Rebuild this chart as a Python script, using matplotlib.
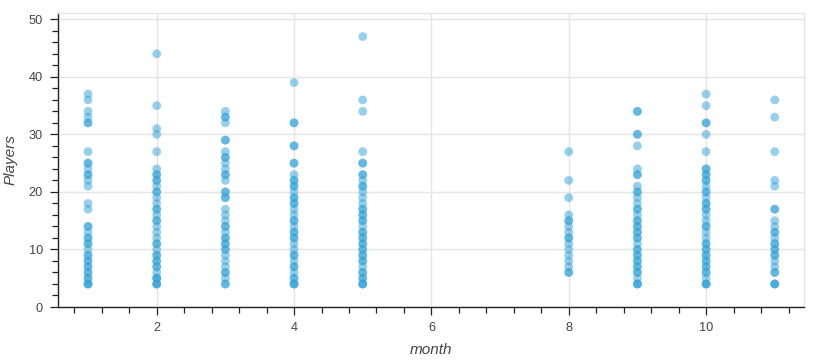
import matplotlib
matplotlib.use("Agg")
import matplotlib.pyplot as plt
from matplotlib.ticker import MultipleLocator

months = [1, 2, 3, 4, 5, 8, 9, 10, 11]

players_m1 = [37, 36, 34, 33, 32, 32, 27, 25, 25, 24, 23, 23, 22, 21, 18, 17, 14, 14, 13,
              12, 12, 11, 11, 10, 9, 9, 8, 8, 7, 7, 6, 6, 5, 5, 4, 4, 4]
players_m2 = [44, 35, 31, 30, 27, 24, 23, 23, 22, 22, 21, 20, 20, 19, 18, 17, 17, 16, 15, 15,
              14, 13, 12, 11, 11, 10, 9, 9, 8, 8, 7, 7, 6, 5, 5, 5, 4, 4, 4]
players_m3 = [34, 33, 33, 32, 29, 29, 27, 26, 26, 25, 24, 23, 23, 22, 20, 20, 19, 19, 17, 16,
              15, 14, 14, 13, 12, 12, 11, 11, 10, 10, 9, 8, 7, 6, 6, 5, 4, 4]
players_m4 = [39, 32, 32, 28, 28, 25, 25, 23, 22, 22, 21, 21, 20, 19, 19, 18, 18, 17, 16,
              15, 15, 14, 13, 13, 12, 12, 11, 10, 9, 9, 8, 7, 7, 6, 5, 5, 4, 4, 4]
players_m5 = [47, 36, 34, 27, 25, 25, 23, 23, 22, 21, 21, 20, 19, 18, 17, 17, 16, 16, 15, 15,
              14, 13, 13, 12, 12, 11, 11, 10, 10, 9, 9, 8, 8, 7, 6, 6, 5, 5, 4, 4, 4]
players_m8 = [27, 22, 19, 16, 15, 15, 14, 13, 12, 12, 11, 10, 9, 8, 7, 6, 6]
players_m9 = [34, 34, 30, 30, 28, 24, 23, 23, 21, 20, 20, 19, 18, 17, 17, 16, 15, 15, 14, 14,
              13, 13, 12, 12, 11, 10, 10, 9, 9, 8, 8, 7, 7, 6, 6, 5, 4, 4, 4]
players_m10 = [37, 35, 32, 32, 30, 27, 24, 24, 23, 23, 22, 22, 21, 20, 20, 19, 18, 18, 17, 17,
               16, 15, 14, 14, 13, 12, 11, 11, 10, 10, 9, 9, 8, 8, 7, 7, 6, 6, 5, 4, 4, 4]
players_m11 = [36, 33, 27, 22, 21, 17, 17, 15, 14, 13, 13, 12, 11, 11, 10, 10, 9, 9, 8, 7,
               6, 6, 4, 4, 4]

players_by_month = [players_m1, players_m2, players_m3, players_m4, players_m5,
                    players_m8, players_m9, players_m10, players_m11]

x_label = "month"
y_label = "Players"

plt.rcParams['font.family'] = ['Liberation Sans', 'DejaVu Sans']

fig = plt.figure(figsize=(8.4, 3.6), dpi=100)
ax = fig.add_axes([58.3 / 840, 1 - 307 / 360, (804.3 - 58.3) / 840, (307 - 12.7) / 360])

xs, ys = [], []
for m, vals in zip(months, players_by_month):
    xs.extend([m] * len(vals))
    ys.extend(vals)

ax.scatter(xs, ys, s=40, color="#30a2da", alpha=0.5, edgecolors="none", zorder=3)

ax.set_xlim(0.567, 11.43)
ax.set_ylim(0, 51.15)

ax.xaxis.set_major_locator(MultipleLocator(2))
ax.xaxis.set_minor_locator(MultipleLocator(0.4))
ax.yaxis.set_major_locator(MultipleLocator(10))
ax.yaxis.set_minor_locator(MultipleLocator(2))

ax.grid(True, which="major", color="#e5e5e5", linewidth=1.0, zorder=0)
ax.set_axisbelow(True)

for side in ["top", "right"]:
    ax.spines[side].set_color("#e5e5e5")
    ax.spines[side].set_linewidth(1.0)
for side in ["left", "bottom"]:
    ax.spines[side].set_color("#222222")
    ax.spines[side].set_linewidth(1.0)

ax.tick_params(which="major", direction="out", length=6, width=0.9, color="#222222",
               labelsize=9.2, labelcolor="#444444", pad=5)
ax.tick_params(which="minor", direction="out", length=4, width=0.9, color="#222222")

ax.set_xlabel(x_label, fontsize=11, style="italic", color="#444444", labelpad=6)
ax.set_ylabel(y_label, fontsize=11, style="italic", color="#444444", labelpad=8)

fig.savefig("out.png", dpi=100)
